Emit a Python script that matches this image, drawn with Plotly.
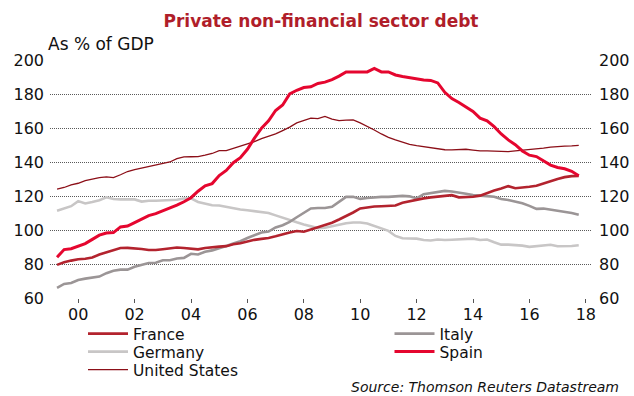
import numpy as np
import plotly.graph_objects as go

# Quarterly private non-financial sector debt, % of GDP (first point = Q2 1999)
FIRST_QUARTER = 1999.25

france = [79.5, 81.0, 82.0, 82.8, 83.1, 83.8, 85.6, 86.9, 88.2, 89.4,
          89.5, 89.3, 88.8, 88.2, 88.2, 88.7, 89.4, 89.7, 89.4, 88.8,
          88.6, 89.4, 90.0, 90.2, 90.5, 91.6, 92.2, 93.3, 94.2, 94.8,
          95.3, 96.3, 97.5, 98.5, 99.4, 99.0, 100.3, 101.5, 102.8, 104.3,
          106.2, 108.1, 110.3, 112.7, 113.4, 113.8, 114.0, 114.1, 114.4, 116.0,
          117.0, 117.6, 118.6, 119.2, 119.6, 120.3, 120.5, 119.2, 119.3, 119.6,
          120.2, 121.8, 123.2, 124.4, 125.8, 124.6, 124.8, 125.4, 126.0, 127.4,
          128.7, 130.0, 131.1, 131.7, 131.8]

italy = [66.0, 68.3, 68.8, 70.6, 71.4, 72.1, 72.6, 74.6, 76.0, 76.7,
         76.7, 78.4, 79.4, 80.6, 80.7, 82.2, 82.2, 83.2, 83.6, 86.0,
         85.6, 87.2, 88.0, 89.5, 90.6, 92.0, 93.4, 95.3, 96.8, 98.5,
         99.1, 101.5, 102.8, 104.8, 107.5, 110.3, 112.7, 112.9, 112.9, 113.7,
         116.5, 119.5, 119.5, 118.3, 118.8, 119.3, 119.5, 119.5, 119.8, 120.1,
         119.8, 118.6, 121.1, 121.8, 122.5, 123.0, 122.6, 122.1, 121.3, 120.5,
         120.0, 119.9, 119.6, 118.2, 117.7, 116.8, 115.7, 114.2, 112.4, 112.6,
         112.0, 111.0, 110.7, 110.0, 109.0]

germany = [111.3, 112.6, 114.0, 117.0, 115.6, 116.5, 117.5, 119.2, 118.2, 118.0,
           118.1, 118.0, 116.7, 117.2, 117.2, 117.3, 117.4, 117.8, 118.5, 118.6,
           116.5, 115.5, 114.6, 114.4, 113.5, 113.0, 112.1, 111.6, 111.2, 110.8,
           110.0, 108.6, 107.2, 105.6, 104.5, 103.3, 102.4, 101.1, 101.3, 102.2,
           103.2, 104.0, 104.4, 104.4, 103.8, 102.5, 101.0, 99.5, 96.5, 95.1,
           95.0, 94.9, 94.1, 93.8, 94.4, 94.1, 94.3, 94.6, 94.8, 94.9,
           94.1, 94.4, 92.8, 91.4, 91.4, 91.3, 90.8, 90.1, 90.4, 91.0,
           91.3, 90.4, 90.4, 90.6, 91.0]

spain = [84.0, 88.5, 89.0, 90.5, 92.0, 94.5, 97.0, 98.2, 98.5, 101.8,
         102.3, 104.3, 106.3, 108.5, 109.6, 111.2, 113.2, 114.6, 116.6, 119.0,
         122.8, 126.0, 127.3, 132.0, 135.0, 139.6, 142.5, 147.5, 154.0, 159.9,
         164.2, 170.3, 173.5, 180.0, 182.2, 183.8, 184.2, 186.2, 187.0, 188.5,
         190.5, 193.0, 193.0, 193.0, 193.0, 195.0, 193.0, 193.0, 191.2, 190.3,
         189.5, 188.8, 188.3, 188.0, 186.5, 181.0, 177.3, 175.0, 172.5, 169.7,
         165.8, 164.2, 160.8, 156.5, 153.0, 150.2, 146.5, 144.0, 143.2, 140.8,
         138.2, 136.8, 136.0, 134.5, 131.9]

united_states = [124.1, 125.0, 126.6, 127.5, 129.0, 130.0, 130.8, 131.2, 130.8, 132.5,
                 134.4, 135.5, 136.4, 137.0, 138.0, 139.0, 140.0, 142.0, 143.0, 143.1,
                 143.2, 144.0, 145.0, 146.7, 146.7, 148.0, 149.2, 150.5, 152.0, 153.8,
                 155.2, 156.5, 158.5, 160.5, 163.0, 164.5, 165.8, 165.5, 166.8, 165.2,
                 164.3, 164.6, 164.8, 163.0, 161.0, 158.8, 156.5, 154.5, 153.0, 151.5,
                 150.4, 149.6, 149.0, 148.0, 147.4, 147.2, 147.1, 147.2, 147.5, 147.0,
                 146.5, 146.5, 146.4, 146.2, 146.1, 146.5, 146.8, 147.1, 147.5, 148.1,
                 148.8, 149.2, 149.3, 149.5, 149.8]

tick_years = [2000, 2002, 2004, 2006, 2008, 2010, 2012, 2014, 2016, 2018]
tick_labels = ["00", "02", "04", "06", "08", "10", "12", "14", "16", "18"]
y_ticks = [60, 80, 100, 120, 140, 160, 180, 200]

quarters = FIRST_QUARTER + 0.25 * np.arange(len(france))

FONT = "DejaVu Sans"
W, H = 634, 396
M_L, M_R, M_T, M_B = 50, 42, 60, 98
PLOT_W, PLOT_H = W - M_L - M_R, H - M_T - M_B


def px_to_paper_x(px):
    return (px - M_L) / PLOT_W


def px_to_paper_y(py):
    return (H - M_B - py) / PLOT_H


# Legend key slots (left edge / row centre in pixels): two columns, three rows
LEFT_COL, RIGHT_COL = 83, 389.5
ROWS = [334, 352, 370]

# (name, values, colour, width, legend id, key slot, y-axis); listed in drawing order
series = [
    ("Germany", germany, "#c8c6c6", 2.6, "legend3", (LEFT_COL, ROWS[1]), "y"),
    ("Italy", italy, "#9b9596", 2.6, "legend2", (RIGHT_COL, ROWS[0]), "y"),
    ("France", france, "#b3232e", 2.6, "legend", (LEFT_COL, ROWS[0]), "y"),
    ("United States", united_states, "#8c0f18", 1.3, "legend5", (LEFT_COL, ROWS[2]), "y"),
    ("Spain", spain, "#e5062f", 3.0, "legend4", (RIGHT_COL, ROWS[1]), "y2"),
]

fig = go.Figure()
legends = {}
for name, values, colour, width, legend_id, (lx, ly), yax in series:
    fig.add_trace(go.Scatter(
        x=quarters, y=values, mode="lines", name=name,
        line=dict(color=colour, width=width),
        legend=legend_id, yaxis=yax, hoverinfo="skip", showlegend=True,
    ))
    legends[legend_id] = dict(
        orientation="h", xref="paper", yref="paper",
        x=px_to_paper_x(lx), y=px_to_paper_y(ly),
        xanchor="left", yanchor="middle", itemwidth=40,
        font=dict(family=FONT, size=15.5, color="#111111"),
        bgcolor="rgba(0,0,0,0)",
    )

tick_font = dict(family=FONT, size=16, color="#111111")

fig.update_layout(
    width=W, height=H,
    showlegend=True,
    margin=dict(l=M_L, r=M_R, t=M_T, b=M_B, autoexpand=False),
    paper_bgcolor="white", plot_bgcolor="white",
    font=dict(family=FONT, color="#111111"),
    title=dict(
        text="<b>Private non-financial sector debt</b>",
        xref="container", yref="container",
        x=321 / W, y=1 - 21 / H, xanchor="center", yanchor="middle",
        font=dict(family=FONT, size=17, color="#b01e2a"),
    ),
    xaxis=dict(
        range=[1999.0, 2018.22], tickvals=tick_years, ticktext=tick_labels,
        ticks="outside", ticklen=4, tickcolor="#555555", tickwidth=1,
        showgrid=False, zeroline=False, showline=False, ticklabelstandoff=-2,
        tickfont=tick_font, fixedrange=True,
    ),
    yaxis=dict(
        range=[60, 200], tickvals=y_ticks, ticks="",
        showgrid=True, gridcolor="#5a5a5a", gridwidth=1, griddash="1px,1px",
        zeroline=False, showline=False, ticklabelstandoff=5,
        tickfont=tick_font, fixedrange=True,
    ),
    yaxis2=dict(
        range=[60, 200], tickvals=y_ticks, ticks="", overlaying="y", side="right",
        showgrid=False, zeroline=False, showline=False, ticklabelstandoff=6,
        tickfont=tick_font, fixedrange=True,
    ),
    annotations=[
        dict(text="As % of GDP", xref="paper", yref="paper",
             x=px_to_paper_x(46), y=px_to_paper_y(43.5),
             xanchor="left", yanchor="middle", showarrow=False,
             font=dict(family=FONT, size=17, color="#111111")),
        dict(text="<i>Source: Thomson Reuters Datastream</i>", xref="paper", yref="paper",
             x=px_to_paper_x(621), y=px_to_paper_y(386.5),
             xanchor="right", yanchor="middle", showarrow=False,
             font=dict(family=FONT, size=14, color="#111111")),
    ],
)
fig.update_layout(**legends)

fig.write_html("out.html", config={"displayModeBar": False})
